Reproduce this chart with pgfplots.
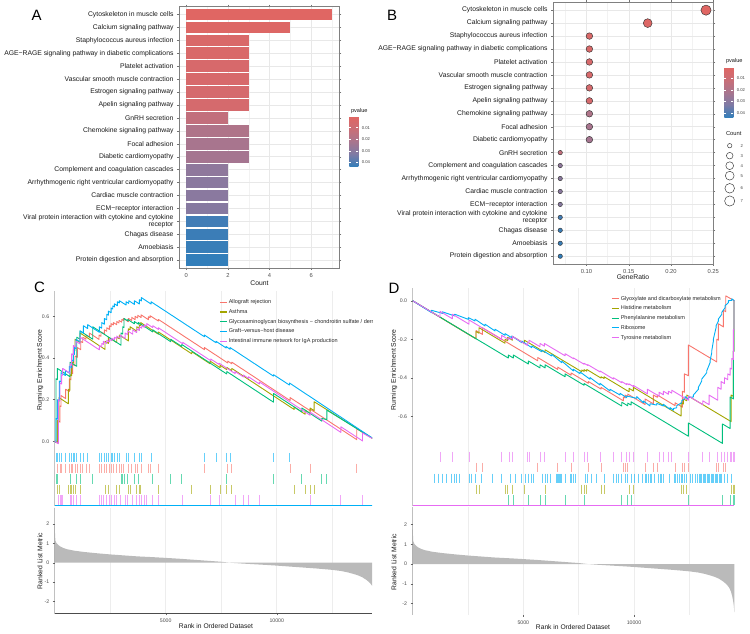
\documentclass[border=0pt]{standalone}
\usepackage{pgfplots}
\pgfplotsset{compat=1.18}
\usepackage{fontspec}
\setmainfont{Liberation Sans}
\newcommand{\fs}[1]{\fontsize{#1}{#1}\selectfont}
\newcommand{\fsl}{\fontsize{6.8}{7.5}\selectfont}
\definecolor{gR}{HTML}{F8766D}
\definecolor{gO}{HTML}{A3A500}
\definecolor{gG}{HTML}{00BF7D}
\definecolor{gB}{HTML}{00B0F6}
\definecolor{gM}{HTML}{E76BF3}
\pgfplotsset{
  every axis/.append style={/pgf/number format/assume math mode=true},
  colormap={pv}{rgb255=(224,102,99) rgb255=(201,110,119) rgb255=(168,117,142) rgb255=(126,122,165) rgb255=(50,126,186)},
  gsea/.style={scale only axis, anchor=south west, axis line style={draw=none},
    tick align=outside, major tick length=2pt, minor tick length=0pt, tick style={black!60, line width=0.4pt},
    xmajorgrids, xminorgrids, major grid style={black!7, line width=0.8pt}, minor grid style={black!7, line width=0.8pt},
    yticklabel style={font=\fs{5.2}, text=black!70}, xticklabel style={font=\fs{5.2}, text=black!70},
    ytick pos=left, xtick pos=bottom, scaled x ticks=false, scaled y ticks=false},
  gleg/.style={legend style={at={#1}, anchor=north west, draw=none, fill=none, font=\fs{5.5}, text=black!85, row sep=2.4pt, inner sep=1pt, nodes={inner sep=1pt, text height=4.1pt, text depth=1.2pt}},
    legend cell align=left,
    legend image code/.code={\draw[##1, line width=1.1pt] (0pt,0pt) -- (7.5pt,0pt);}},
  rug/.style={only marks, mark=|, mark size=4.8pt, mark options={line width=0.9pt, opacity=0.6}},
  es/.style={line width=0.9pt, line join=round},
  enr/.style={scale only axis, anchor=south west, ymin=0.4, ymax=20.6, ytick={1,...,20},
    yticklabel style={font=\fsl, text=black!90, align=right},
    xticklabel style={font=\fs{5.8}, text=black!70},
    grid=both, major grid style={black!9, line width=0.5pt}, minor grid style={black!5, line width=0.3pt},
    axis line style={black!50, line width=0.5pt}, tick style={black!55, line width=0.4pt},
    tick align=outside, major tick length=2pt, minor tick length=0pt, scaled x ticks=false,
    yticklabels={Protein digestion and absorption, Amoebiasis, Chagas disease, {Viral protein interaction with cytokine and cytokine\\receptor}, ECM−receptor interaction, Cardiac muscle contraction, Arrhythmogenic right ventricular cardiomyopathy, Complement and coagulation cascades, Diabetic cardiomyopathy, Focal adhesion, Chemokine signaling pathway, GnRH secretion, Apelin signaling pathway, Estrogen signaling pathway, Vascular smooth muscle contraction, Platelet activation, AGE−RAGE signaling pathway in diabetic complications, Staphylococcus aureus infection, Calcium signaling pathway, Cytoskeleton in muscle cells},
    colormap name=pv, point meta min=0.0005, point meta max=0.0438, colorbar},
  cbar/.style={scale only axis, width=9pt, height=50pt, y dir=reverse, scaled y ticks=false,
    ytick={0.01,0.02,0.03,0.04}, yticklabels={0.01,0.02,0.03,0.04},
    yticklabel style={font=\fs{4.2}, text=black!75}, ytick pos=both, yticklabel pos=right,
    tick align=inside, major tick length=2pt, tick style={white, line width=0.5pt},
    axis line style={draw=none}, xtick=\empty}
}
\newcommand{\hb}[4]{\addplot[xbar, bar shift=0pt, bar width=0.9, draw=none, fill={rgb,255:red,#2;green,#3;blue,#4}] coordinates {#1};}
\begin{document}
\begin{tikzpicture}[x=1pt,y=1pt]
\path[use as bounding box] (0,0) rectangle (750,634);
% ================= A =================
\begin{axis}[enr, at={(179pt,366pt)}, width=160.3pt, height=261.3pt,
  xmin=-0.35, xmax=7.35, xtick={0,2,4,6}, minor xtick={1,3,5,7},
  colorbar style={cbar, at={(1.0624,0.579)}, anchor=north west}]
\hb{(7,20)}{224}{102}{99}
\hb{(5,19)}{221}{103}{101}
\hb{(3,18)}{217}{105}{105}
\hb{(3,17)}{217}{105}{105}
\hb{(3,16)}{215}{105}{107}
\hb{(3,15)}{215}{105}{107}
\hb{(3,14)}{213}{106}{109}
\hb{(3,13)}{213}{106}{109}
\hb{(2,12)}{194}{111}{124}
\hb{(3,11)}{175}{116}{137}
\hb{(3,10)}{168}{117}{142}
\hb{(3,9)}{165}{117}{144}
\hb{(2,8)}{143}{120}{156}
\hb{(2,7)}{138}{121}{159}
\hb{(2,6)}{138}{121}{159}
\hb{(2,5)}{134}{121}{160}
\hb{(2,4)}{65}{125}{182}
\hb{(2,3)}{59}{125}{183}
\hb{(2,2)}{56}{126}{184}
\hb{(2,1)}{50}{126}{186}
\end{axis}
% ================= B =================
\begin{axis}[enr, at={(553pt,370pt)}, width=160.3pt, height=261.6pt,
  xmin=0.0604, xmax=0.25, xtick={0.10,0.15,0.20,0.25}, xticklabels={0.10,0.15,0.20,0.25},
  minor xtick={0.075,0.125,0.175,0.225},
  yticklabels={Protein digestion and absorption, Amoebiasis, Chagas disease, {Viral protein interaction with cytokine and cytokine\\receptor}, ECM−receptor interaction, Cardiac muscle contraction, Arrhythmogenic right ventricular cardiomyopathy, Complement and coagulation cascades, GnRH secretion, Diabetic cardiomyopathy, Focal adhesion, Chemokine signaling pathway, Apelin signaling pathway, Estrogen signaling pathway, Vascular smooth muscle contraction, Platelet activation, AGE−RAGE signaling pathway in diabetic complications, Staphylococcus aureus infection, Calcium signaling pathway, Cytoskeleton in muscle cells},
  colorbar style={cbar, at={(1.0686,0.752)}, anchor=north west}]
\addplot[scatter, only marks, mark=*, mark size=2.2pt, point meta=explicit, scatter/use mapped color={draw=black!80, fill=mapped color}, mark options={line width=0.45pt}]
 coordinates {(0.06897,9) [0.0135] (0.06897,8) [0.0286] (0.06897,7) [0.0299] (0.06897,6) [0.0299] (0.06897,5) [0.0308] (0.06897,4) [0.0416] (0.06897,3) [0.0425] (0.06897,2) [0.0429] (0.06897,1) [0.0438]};
\addplot[scatter, only marks, mark=*, mark size=3.3pt, point meta=explicit, scatter/use mapped color={draw=black!80, fill=mapped color}, mark options={line width=0.45pt}]
 coordinates {(0.10345,18) [0.0040] (0.10345,17) [0.0040] (0.10345,16) [0.0048] (0.10345,15) [0.0048] (0.10345,14) [0.0057] (0.10345,13) [0.0057] (0.10345,12) [0.0200] (0.10345,11) [0.0222] (0.10345,10) [0.0230]};
\addplot[scatter, only marks, mark=*, mark size=4.4pt, point meta=explicit, scatter/use mapped color={draw=black!80, fill=mapped color}, mark options={line width=0.45pt}]
 coordinates {(0.17241,19) [0.0018]};
\addplot[scatter, only marks, mark=*, mark size=5.1pt, point meta=explicit, scatter/use mapped color={draw=black!80, fill=mapped color}, mark options={line width=0.45pt}]
 coordinates {(0.24138,20) [0.0005]};
\end{axis}
% ========== Count legend (B) ==========
\begin{axis}[at={(0pt,0pt)}, anchor=south west, scale only axis, width=750pt, height=634pt,
  xmin=0, xmax=750, ymin=0, ymax=634, hide axis, clip=false]
\addplot[only marks, mark=o, mark size=2.2pt, black!75, mark options={line width=0.5pt}] coordinates {(729.7,488.3)};
\addplot[only marks, mark=o, mark size=3.3pt, black!75, mark options={line width=0.5pt}] coordinates {(729.7,478.3)};
\addplot[only marks, mark=o, mark size=3.9pt, black!75, mark options={line width=0.5pt}] coordinates {(729.7,468.3)};
\addplot[only marks, mark=o, mark size=4.4pt, black!75, mark options={line width=0.5pt}] coordinates {(729.7,458.3)};
\addplot[only marks, mark=o, mark size=4.8pt, black!75, mark options={line width=0.5pt}] coordinates {(729.7,445.7)};
\addplot[only marks, mark=o, mark size=5.1pt, black!75, mark options={line width=0.5pt}] coordinates {(729.7,433.0)};
\end{axis}
% ================= C =================
\begin{axis}[gsea, gleg={(0.5147,0.9586)}, at={(54.7pt,186pt)}, width=317.3pt, height=157pt,
  xmin=0, xmax=14290, ymin=-0.032, ymax=0.7215,
  xtick={5000,10000}, minor xtick={2500,7500,12500}, xticklabels={}, xtick style={draw=none},
  ytick={0,0.2,0.4,0.6}, yticklabels={0.0,0.2,0.4,0.6}]
\draw[black!65, line width=0.5pt] (rel axis cs:0,0) -- (rel axis cs:0,1);
\addlegendimage{gR}
\addlegendentry{Allograft rejection}
\addlegendimage{gO}
\addlegendentry{Asthma}
\addlegendimage{gG}
\addlegendentry{Glycosaminoglycan biosynthesis − chondroitin sulfate / dermatan sulfate}
\addlegendimage{gB}
\addlegendentry{Graft−versus−host disease}
\addlegendimage{gM}
\addlegendentry{Intestinal immune network for IgA production}
\addplot[es, gR, forget plot] coordinates {(0,0)(119,-0.008)(119,0.10)(240,0.092)(240,0.17)(285,0.167)(285,0.22)(495,0.205)(495,0.25)(660,0.239)(660,0.30)(735,0.295)(735,0.33)(810,0.325)(810,0.37)(915,0.363)(915,0.41)(1021,0.403)(1021,0.45)(1171,0.44)(1171,0.48)(1261,0.474)(1261,0.50)(1411,0.49)(1411,0.51)(1561,0.50)(1561,0.52)(1997,0.489)(1997,0.51)(2087,0.504)(2087,0.525)(2237,0.515)(2237,0.535)(2342,0.528)(2342,0.545)(2463,0.537)(2463,0.555)(2538,0.55)(2538,0.565)(2643,0.558)(2643,0.57)(2793,0.56)(2793,0.575)(2898,0.568)(2898,0.58)(3018,0.572)(3018,0.585)(3093,0.58)(3093,0.59)(3319,0.574)(3319,0.59)(3469,0.58)(3469,0.595)(3619,0.584)(3619,0.60)(3739,0.592)(3739,0.605)(3890,0.594)(3890,0.607)(4220,0.584)(4220,0.598)(4295,0.593)(4295,0.603)(4671,0.577)(4671,0.585)(6743,0.44)(6743,0.45)(7795,0.376)(7795,0.385)(7975,0.372)(7975,0.38)(10600,0.196)(10600,0.21)(11500,0.147)(11500,0.155)(13605,0.008)(13605,0.06)(14530,0)};
\addplot[es, gO, forget plot] coordinates {(0,0)(119,-0.008)(119,0.10)(195,0.095)(195,0.21)(615,0.18)(615,0.25)(690,0.245)(690,0.32)(765,0.315)(765,0.38)(840,0.375)(840,0.44)(915,0.435)(915,0.49)(1141,0.474)(1141,0.52)(2267,0.441)(2267,0.48)(2418,0.47)(2418,0.50)(2793,0.474)(2793,0.50)(2913,0.492)(2913,0.51)(3319,0.482)(3319,0.54)(3394,0.535)(3394,0.55)(3694,0.529)(3694,0.55)(3814,0.542)(3814,0.56)(3874,0.556)(3874,0.57)(4671,0.514)(4671,0.525)(6173,0.42)(6173,0.43)(6999,0.372)(6999,0.385)(7450,0.353)(7450,0.365)(7750,0.344)(7750,0.355)(7975,0.339)(7975,0.35)(10783,0.153)(10783,0.165)(11279,0.13)(11279,0.15)(11505,0.134)(11505,0.16)(11685,0.147)(11685,0.19)(14530,0)};
\addplot[es, gG, forget plot] coordinates {(0,0)(59,-0.004)(59,0.30)(119,0.296)(119,0.35)(690,0.31)(690,0.38)(991,0.36)(991,0.50)(1141,0.49)(1141,0.53)(1712,0.49)(1712,0.55)(2988,0.461)(2988,0.52)(3063,0.515)(3063,0.55)(3123,0.546)(3123,0.59)(3289,0.578)(3289,0.585)(3589,0.564)(3589,0.575)(3770,0.562)(3770,0.57)(4415,0.525)(4415,0.535)(5226,0.478)(5226,0.49)(5722,0.455)(5722,0.465)(7750,0.323)(7750,0.335)(9852,0.188)(9852,0.23)(11129,0.141)(11129,0.16)(12030,0.097)(12030,0.11)(12256,0.104)(12256,0.15)(14530,0)};
\addplot[es, gB, forget plot] coordinates {(0,0)(59,-0.004)(59,0.11)(119,0.106)(119,0.20)(210,0.194)(210,0.29)(285,0.285)(285,0.33)(480,0.316)(480,0.34)(660,0.327)(660,0.36)(765,0.353)(765,0.39)(840,0.385)(840,0.42)(885,0.417)(885,0.45)(960,0.445)(960,0.49)(1140,0.477)(1140,0.53)(1291,0.519)(1291,0.555)(1486,0.541)(1486,0.56)(2012,0.523)(2012,0.55)(2117,0.543)(2117,0.57)(2237,0.562)(2237,0.59)(2342,0.583)(2342,0.61)(2418,0.605)(2418,0.625)(2538,0.617)(2538,0.64)(2613,0.635)(2613,0.65)(2688,0.645)(2688,0.66)(2823,0.651)(2823,0.67)(2913,0.664)(2913,0.675)(3214,0.654)(3214,0.67)(3334,0.662)(3334,0.675)(3589,0.657)(3589,0.675)(3814,0.659)(3814,0.68)(3904,0.674)(3904,0.69)(4340,0.659)(4340,0.67)(6743,0.502)(6743,0.51)(7269,0.473)(7269,0.48)(7720,0.448)(7720,0.455)(7900,0.442)(7900,0.45)(9852,0.313)(9852,0.32)(10573,0.27)(10573,0.28)(14530,0)};
\addplot[es, gM, forget plot] coordinates {(0,0)(164,-0.011)(164,0.20)(240,0.195)(240,0.28)(315,0.275)(315,0.32)(360,0.317)(360,0.35)(690,0.327)(690,0.37)(765,0.365)(765,0.42)(840,0.415)(840,0.46)(960,0.452)(960,0.48)(1141,0.467)(1141,0.50)(2012,0.439)(2012,0.46)(2117,0.453)(2117,0.47)(2192,0.465)(2192,0.48)(2342,0.47)(2342,0.485)(2463,0.477)(2463,0.49)(2568,0.483)(2568,0.495)(2688,0.487)(2688,0.50)(2793,0.493)(2793,0.505)(2943,0.495)(2943,0.51)(3169,0.494)(3169,0.52)(3289,0.512)(3289,0.53)(3514,0.514)(3514,0.535)(3694,0.522)(3694,0.54)(3814,0.532)(3814,0.55)(3920,0.543)(3920,0.555)(4040,0.547)(4040,0.56)(4145,0.553)(4145,0.565)(4415,0.546)(4415,0.555)(4671,0.537)(4671,0.545)(5767,0.468)(5767,0.475)(7029,0.387)(7029,0.395)(7405,0.369)(7405,0.375)(8126,0.325)(8126,0.335)(8501,0.309)(8501,0.318)(8726,0.302)(8726,0.31)(9221,0.275)(9221,0.285)(11505,0.125)(11505,0.14)(12887,0.043)(12887,0.07)(13864,0.002)(13864,0.04)(14530,0)};
\end{axis}
\begin{axis}[gsea, at={(54.7pt,128pt)}, width=317.3pt, height=58pt,
  xmin=0, xmax=14290, ymin=0.465, ymax=5.91,
  xtick={5000,10000}, minor xtick={2500,7500,12500}, xticklabels={}, xtick style={draw=none}, ytick=\empty]
\draw[black!65, line width=0.5pt] (rel axis cs:0,0) -- (rel axis cs:0,1);
\addplot[gB, rug] coordinates {(59,5)(119,5)(210,5)(285,5)(480,5)(660,5)(765,5)(840,5)(885,5)(960,5)(1140,5)(1291,5)(1486,5)(2012,5)(2117,5)(2237,5)(2342,5)(2418,5)(2538,5)(2613,5)(2688,5)(2823,5)(2913,5)(3214,5)(3334,5)(3589,5)(3814,5)(3904,5)(4340,5)(6743,5)(7269,5)(7720,5)(7900,5)(9852,5)(10573,5)};
\addplot[gR, rug] coordinates {(119,4)(240,4)(285,4)(495,4)(660,4)(735,4)(810,4)(915,4)(1021,4)(1171,4)(1261,4)(1411,4)(1561,4)(1997,4)(2087,4)(2237,4)(2342,4)(2463,4)(2538,4)(2643,4)(2793,4)(2898,4)(3018,4)(3093,4)(3319,4)(3469,4)(3619,4)(3739,4)(3890,4)(4220,4)(4295,4)(4671,4)(6743,4)(7795,4)(7975,4)(10600,4)(11500,4)(13605,4)};
\addplot[gG, rug] coordinates {(59,3)(119,3)(690,3)(991,3)(1141,3)(1712,3)(2988,3)(3063,3)(3123,3)(3289,3)(3589,3)(3770,3)(4415,3)(5226,3)(5722,3)(7750,3)(9852,3)(11129,3)(12030,3)(12256,3)};
\addplot[gO, rug] coordinates {(119,2)(195,2)(615,2)(690,2)(765,2)(840,2)(915,2)(1141,2)(2267,2)(2418,2)(2793,2)(2913,2)(3319,2)(3394,2)(3694,2)(3814,2)(3874,2)(4671,2)(6173,2)(6999,2)(7450,2)(7750,2)(7975,2)(10783,2)(11279,2)(11505,2)(11685,2)};
\addplot[gM, rug] coordinates {(164,1)(240,1)(315,1)(360,1)(690,1)(765,1)(840,1)(960,1)(1141,1)(2012,1)(2117,1)(2192,1)(2342,1)(2463,1)(2568,1)(2688,1)(2793,1)(2943,1)(3169,1)(3289,1)(3514,1)(3694,1)(3814,1)(3920,1)(4040,1)(4145,1)(4415,1)(4671,1)(5767,1)(7029,1)(7405,1)(8126,1)(8501,1)(8726,1)(9221,1)(11505,1)(12887,1)(13864,1)};
\addplot[gB, line width=0.9pt] coordinates {(0,0.5)(14530,0.5)};
\end{axis}
\begin{axis}[gsea, at={(54.7pt,20.7pt)}, width=317.3pt, height=105.6pt,
  xmin=0, xmax=14290, ymin=-2.62, ymax=2.85,
  xtick={5000,10000}, xticklabels={5000,10000}, minor xtick={2500,7500,12500},
  ytick={-2,-1,0,1,2}, yticklabels={-2,-1,0,1,2}]
\addplot[fill=black!27, draw=none] coordinates {(0,2.0)(10,1.6)(30,1.15)(80,1.02)(150,0.93)(250,0.84)(400,0.76)(550,0.70)(900,0.62)(1300,0.56)(1900,0.49)(2500,0.43)(3100,0.38)(3700,0.33)(4400,0.29)(5000,0.25)(5700,0.2)(6300,0.15)(6900,0.1)(7500,0.05)(7900,0.0)(8400,-0.04)(9000,-0.08)(9600,-0.12)(10000,-0.15)(10600,-0.2)(11200,-0.25)(11800,-0.3)(12500,-0.37)(12900,-0.43)(13200,-0.5)(13450,-0.58)(13650,-0.65)(13850,-0.75)(14050,-0.9)(14200,-1.05)(14300,-1.2)(14380,-1.4)(14440,-1.65)(14490,-1.95)(14515,-2.2)(14530,-2.45)} \closedcycle;
\draw[black!70, line width=0.5pt] (rel axis cs:0,1) -- (rel axis cs:0,0) -- (rel axis cs:1,0);
\end{axis}
\fill[white] (373,0) rectangle (750,347);
% ================= D =================
\begin{axis}[gsea, gleg={(0.6136,0.9625)}, at={(412.6pt,186pt)}, width=321.7pt, height=160pt,
  xmin=0, xmax=14530, ymin=-0.765, ymax=0.066,
  xtick={5000,10000}, minor xtick={2500,7500,12500}, xticklabels={}, xtick style={draw=none},
  ytick={-0.6,-0.4,-0.2,0}, yticklabels={-0.6,-0.4,-0.2,0.0}]
\draw[black!65, line width=0.5pt] (rel axis cs:0,0) -- (rel axis cs:0,1);
\addlegendimage{gR}
\addlegendentry{Glyoxylate and dicarboxylate metabolism}
\addlegendimage{gO}
\addlegendentry{Histidine metabolism}
\addlegendimage{gG}
\addlegendentry{Phenylalanine metabolism}
\addlegendimage{gB}
\addlegendentry{Ribosome}
\addlegendimage{gM}
\addlegendentry{Tyrosine metabolism}
\addplot[es, gR, forget plot] coordinates {(0,0)(2865,-0.198)(2865,-0.155)(3151,-0.175)(3151,-0.14)(5651,-0.312)(5651,-0.295)(6555,-0.357)(6555,-0.345)(7157,-0.387)(7157,-0.375)(7940,-0.429)(7940,-0.42)(8512,-0.459)(8512,-0.45)(9521,-0.52)(9521,-0.50)(9597,-0.505)(9597,-0.49)(9717,-0.498)(9717,-0.485)(10500,-0.539)(10500,-0.51)(10877,-0.536)(10877,-0.49)(11057,-0.502)(11057,-0.49)(11856,-0.545)(11856,-0.53)(12187,-0.553)(12187,-0.47)(12277,-0.476)(12277,-0.38)(12458,-0.39)(12458,-0.23)(13738,-0.318)(13738,-0.20)(13813,-0.205)(13813,-0.12)(14039,-0.136)(14039,-0.05)(14145,-0.057)(14145,0.025)(14530,0)};
\addplot[es, gO, forget plot] coordinates {(0,0)(2865,-0.198)(2865,-0.16)(3000,-0.169)(3000,-0.14)(4175,-0.221)(4175,-0.20)(4295,-0.208)(4295,-0.19)(4506,-0.205)(4506,-0.185)(5048,-0.222)(5048,-0.205)(5982,-0.269)(5982,-0.255)(7639,-0.369)(7639,-0.36)(7744,-0.367)(7744,-0.358)(7865,-0.366)(7865,-0.357)(8512,-0.402)(8512,-0.395)(8648,-0.404)(8648,-0.395)(9777,-0.473)(9777,-0.455)(9973,-0.469)(9973,-0.45)(12127,-0.599)(12127,-0.53)(12232,-0.537)(12232,-0.51)(12383,-0.52)(12383,-0.49)(14386,-0.628)(14386,-0.49)(14491,-0.497)(14491,-0.26)(14525,-0.262)(14525,0)(14530,0)};
\addplot[es, gG, forget plot] coordinates {(0,0)(4326,-0.298)(4326,-0.282)(4552,-0.298)(4552,-0.282)(5229,-0.329)(5229,-0.313)(5756,-0.349)(5756,-0.333)(5983,-0.349)(5983,-0.333)(6886,-0.395)(6886,-0.38)(7744,-0.439)(7744,-0.43)(9446,-0.547)(9446,-0.527)(9717,-0.546)(9717,-0.532)(9868,-0.542)(9868,-0.525)(12458,-0.704)(12458,-0.635)(13994,-0.741)(13994,-0.64)(14341,-0.664)(14341,-0.50)(14491,-0.51)(14491,-0.26)(14525,-0.262)(14525,0)(14530,0)};
\addplot[es, gB, forget plot] coordinates {(0,0)(860,-0.062)(860,-0.05)(1350,-0.066)(1350,-0.058)(1900,-0.079)(1900,-0.07)(2518,-0.097)(2518,-0.088)(2820,-0.105)(2820,-0.096)(3270,-0.131)(3270,-0.122)(3723,-0.157)(3723,-0.148)(4175,-0.18)(4175,-0.171)(4476,-0.192)(4476,-0.183)(4928,-0.218)(4928,-0.209)(5380,-0.244)(5380,-0.235)(5832,-0.265)(5832,-0.256)(6283,-0.287)(6283,-0.278)(6735,-0.322)(6735,-0.313)(7262,-0.365)(7262,-0.356)(7562,-0.379)(7562,-0.37)(8014,-0.408)(8014,-0.399)(8465,-0.438)(8465,-0.429)(8917,-0.469)(8917,-0.46)(9369,-0.49)(9369,-0.481)(9670,-0.504)(9670,-0.495)(10122,-0.507)(10122,-0.498)(10423,-0.53)(10423,-0.521)(10724,-0.547)(10724,-0.535)(11026,-0.542)(11026,-0.533)(11327,-0.547)(11327,-0.538)(11628,-0.564)(11628,-0.555)(11779,-0.569)(11779,-0.56)(11929,-0.556)(11929,-0.545)(12155,-0.53)(12155,-0.52)(12306,-0.507)(12306,-0.498)(12456,-0.512)(12456,-0.503)(12682,-0.50)(12682,-0.49)(12908,-0.46)(12908,-0.45)(13059,-0.417)(13059,-0.407)(13285,-0.374)(13285,-0.364)(13435,-0.322)(13435,-0.312)(13511,-0.27)(13511,-0.26)(13586,-0.209)(13586,-0.199)(13706,-0.14)(13706,-0.13)(13812,-0.105)(13812,-0.095)(13962,-0.071)(13962,-0.061)(14113,-0.036)(14113,-0.026)(14264,-0.01)(14264,0.0)(14414,0.002)(14414,0.01)(14530,0)};
\addplot[es, gM, forget plot] coordinates {(0,0)(1238,-0.085)(1238,-0.055)(1796,-0.094)(1796,-0.07)(2549,-0.122)(2549,-0.10)(4024,-0.202)(4024,-0.18)(4356,-0.203)(4356,-0.19)(4506,-0.20)(4506,-0.185)(5199,-0.233)(5199,-0.215)(5259,-0.219)(5259,-0.205)(5756,-0.239)(5756,-0.222)(5952,-0.236)(5952,-0.222)(6886,-0.286)(6886,-0.275)(7262,-0.301)(7262,-0.297)(7744,-0.330)(7744,-0.325)(7910,-0.336)(7910,-0.332)(8467,-0.37)(8467,-0.365)(9070,-0.407)(9070,-0.40)(9446,-0.426)(9446,-0.42)(9672,-0.436)(9672,-0.43)(9777,-0.437)(9777,-0.432)(9973,-0.446)(9973,-0.44)(10606,-0.484)(10606,-0.46)(11133,-0.496)(11133,-0.475)(11329,-0.489)(11329,-0.47)(11555,-0.486)(11555,-0.47)(11705,-0.48)(11705,-0.465)(12458,-0.517)(12458,-0.495)(13106,-0.54)(13106,-0.52)(13392,-0.54)(13392,-0.49)(13783,-0.517)(13783,-0.45)(13934,-0.46)(13934,-0.42)(14085,-0.43)(14085,-0.40)(14235,-0.41)(14235,-0.38)(14341,-0.387)(14341,-0.35)(14416,-0.355)(14416,-0.30)(14491,-0.305)(14491,-0.15)(14520,-0.152)(14520,0)(14530,0)};
\end{axis}
\begin{axis}[gsea, at={(412.6pt,128pt)}, width=321.7pt, height=58pt,
  xmin=0, xmax=14530, ymin=0.47, ymax=5.8,
  xtick={5000,10000}, minor xtick={2500,7500,12500}, xticklabels={}, xtick style={draw=none}, ytick=\empty]
\draw[black!65, line width=0.5pt] (rel axis cs:0,0) -- (rel axis cs:0,1);
\addplot[gM, rug] coordinates {(1238,5)(1796,5)(2549,5)(4024,5)(4356,5)(4506,5)(5199,5)(5259,5)(5756,5)(5952,5)(6886,5)(7262,5)(7744,5)(7910,5)(8467,5)(9070,5)(9446,5)(9672,5)(9777,5)(9973,5)(10606,5)(11133,5)(11329,5)(11555,5)(11705,5)(12458,5)(13106,5)(13392,5)(13783,5)(13934,5)(14085,5)(14235,5)(14341,5)(14416,5)(14491,5)(14520,5)};
\addplot[gR, rug] coordinates {(2865,4)(3151,4)(5651,4)(6555,4)(7157,4)(7940,4)(8512,4)(9521,4)(9597,4)(9717,4)(10500,4)(10877,4)(11057,4)(11856,4)(12187,4)(12277,4)(12458,4)(13738,4)(13813,4)(14039,4)(14145,4)};
\addplot[gB, rug] coordinates {(982,3)(1163,3)(1344,3)(1540,3)(1765,3)(1886,3)(1991,3)(2097,3)(2549,3)(2669,3)(2850,3)(3121,3)(3603,3)(4024,3)(4401,3)(4627,3)(4928,3)(5109,3)(5229,3)(5350,3)(5455,3)(5862,3)(5982,3)(6103,3)(6238,3)(6509,3)(6554,3)(6600,3)(6645,3)(6690,3)(6735,3)(6886,3)(7112,3)(7187,3)(7262,3)(7368,3)(7789,3)(7910,3)(8091,3)(8317,3)(8663,3)(9070,3)(9190,3)(9295,3)(9416,3)(9597,3)(9717,3)(9868,3)(10018,3)(10199,3)(10380,3)(10500,3)(10576,3)(10651,3)(10726,3)(10801,3)(10922,3)(11103,3)(11178,3)(11253,3)(11329,3)(11585,3)(11826,3)(11886,3)(11977,3)(12052,3)(12127,3)(12202,3)(12277,3)(12383,3)(12533,3)(12639,3)(12759,3)(12880,3)(12940,3)(13000,3)(13060,3)(13121,3)(13181,3)(13241,3)(13301,3)(13362,3)(13422,3)(13482,3)(13542,3)(13602,3)(13663,3)(13723,3)(13783,3)(13843,3)(13904,3)(13964,3)(14084,3)(14235,3)(14385,3)};
\addplot[gO, rug] coordinates {(2865,2)(3000,2)(4175,2)(4295,2)(4506,2)(5048,2)(5982,2)(7639,2)(7744,2)(7865,2)(8512,2)(8648,2)(9777,2)(9973,2)(12127,2)(12232,2)(12383,2)(14386,2)(14491,2)(14525,2)};
\addplot[gG, rug] coordinates {(4326,1)(4552,1)(5229,1)(5756,1)(5983,1)(6886,1)(7744,1)(9446,1)(9717,1)(9868,1)(12458,1)(13994,1)(14341,1)(14491,1)(14525,1)};
\addplot[gM, line width=0.9pt] coordinates {(0,0.5)(14530,0.5)};
\end{axis}
\begin{axis}[gsea, at={(412.6pt,19pt)}, width=321.7pt, height=108pt,
  xmin=0, xmax=14530, ymin=-2.58, ymax=2.886,
  xtick={5000,10000}, xticklabels={5000,10000}, minor xtick={2500,7500,12500},
  ytick={-2,-1,0,1,2}, yticklabels={-2,-1,0,1,2}]
\addplot[fill=black!27, draw=none] coordinates {(0,2.0)(10,1.6)(30,1.15)(80,1.02)(150,0.93)(250,0.84)(400,0.76)(550,0.70)(900,0.62)(1300,0.56)(1900,0.49)(2500,0.43)(3100,0.38)(3700,0.33)(4400,0.29)(5000,0.25)(5700,0.2)(6300,0.15)(6900,0.1)(7500,0.05)(7900,0.0)(8400,-0.04)(9000,-0.08)(9600,-0.12)(10000,-0.15)(10600,-0.2)(11200,-0.25)(11800,-0.3)(12500,-0.37)(12900,-0.43)(13200,-0.5)(13450,-0.58)(13650,-0.65)(13850,-0.75)(14050,-0.9)(14200,-1.05)(14300,-1.2)(14380,-1.4)(14440,-1.65)(14490,-1.95)(14515,-2.2)(14530,-2.45)} \closedcycle;
\draw[black!70, line width=0.5pt] (rel axis cs:0,1) -- (rel axis cs:0,0) -- (rel axis cs:1,0);
\end{axis}
% ================= texts =================
\node[font=\fs{15}] at (36.7,618.6) {A};
\node[font=\fs{15}] at (392,618.5) {B};
\node[font=\fs{15}] at (39.5,347) {C};
\node[font=\fs{15}] at (394,345.5) {D};
\node[font=\fs{6.8}, text=black!90] at (259.5,351.3) {Count};
\node[font=\fs{6.8}, text=black!90] at (633,357.3) {GeneRatio};
\node[font=\fs{5.6}, anchor=west, text=black!90] at (347.5,523) {pvalue};
\node[font=\fs{5.6}, anchor=west, text=black!90] at (722.5,573) {pvalue};
\node[font=\fs{5.8}, anchor=west, text=black!90] at (722.5,500) {Count};
\node[font=\fs{4.2}, anchor=west, text=black!75] at (737,488.3) {2};
\node[font=\fs{4.2}, anchor=west, text=black!75] at (737,478.3) {3};
\node[font=\fs{4.2}, anchor=west, text=black!75] at (737,468.3) {4};
\node[font=\fs{4.2}, anchor=west, text=black!75] at (737,458.3) {5};
\node[font=\fs{4.2}, anchor=west, text=black!75] at (737,445.7) {6};
\node[font=\fs{4.2}, anchor=west, text=black!75] at (737,433.0) {7};
\node[rotate=90, font=\fs{6.8}, text=black!90] at (40,264) {Running Enrichment Score};
\node[rotate=90, font=\fs{6.8}, text=black!90] at (40,73) {Ranked List Metric};
\node[font=\fs{6.7}, text=black!90] at (216,8) {Rank in Ordered Dataset};
\node[rotate=90, font=\fs{6.8}, text=black!90] at (394,264) {Running Enrichment Score};
\node[rotate=90, font=\fs{6.8}, text=black!90] at (394,72) {Ranked List Metric};
\node[font=\fs{6.7}, text=black!90] at (573,7) {Rank in Ordered Dataset};
\end{tikzpicture}
\end{document}
